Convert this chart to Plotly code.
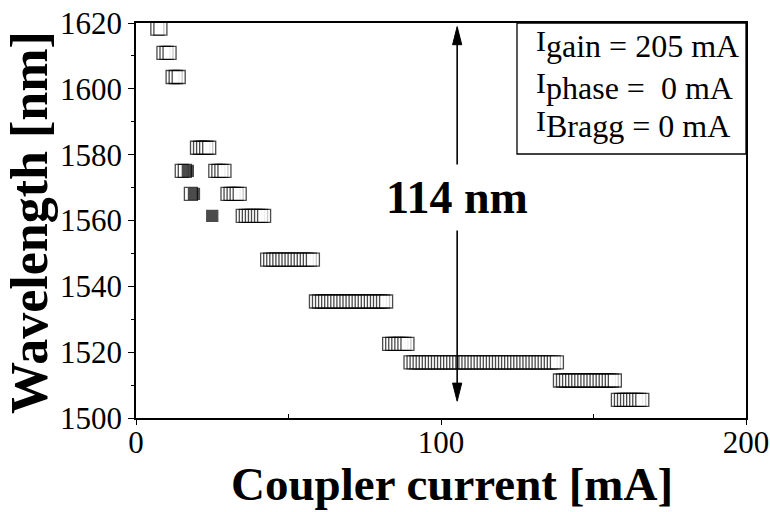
import plotly.graph_objects as go

# ---------------- data ----------------
coupler_current = [
    7, 8, 9, 10, 11, 12, 13, 14, 15, 16, 17, 18, 19, 20, 21, 22, 23, 24, 25, 26,
    27, 28, 29, 30, 31, 32, 33, 34, 35, 36, 37, 38, 39, 40, 41, 42, 43, 44, 45, 46,
    47, 48, 49, 50, 51, 52, 53, 54, 55, 56, 57, 58, 59, 60, 61, 62, 63, 64, 65, 66,
    67, 68, 69, 70, 71, 72, 73, 74, 75, 76, 77, 78, 79, 80, 81, 82, 83, 84, 85, 86,
    87, 88, 89, 90, 91, 92, 93, 94, 95, 96, 97, 98, 99, 100, 101, 102, 103, 104, 105, 106,
    107, 108, 109, 110, 111, 112, 113, 114, 115, 116, 117, 118, 119, 120, 121, 122, 123, 124, 125, 126,
    127, 128, 129, 130, 131, 132, 133, 134, 135, 136, 137, 138, 139, 140, 141, 142, 143, 144, 145, 146,
    147, 148, 149, 150, 151, 152, 153, 154, 155, 156, 157, 158, 159, 160, 161, 162, 163, 164, 165, 166,
]

wavelength = [
    1618.3, 1618.3, 1610.9, 1610.9, 1610.9, 1603.6, 1603.6, 1603.6, 1575.1, 1575.1,
    1575.1, 1568.1, 1568.1, 1582.1, 1582.1, 1582.1, 1582.1, 1582.1, 1561.4, 1575.1,
    1575.1, 1575.1, 1575.1, 1568.1, 1568.1, 1568.1, 1568.1, 1568.1, 1561.4, 1561.4,
    1561.4, 1561.4, 1561.4, 1561.4, 1561.4, 1561.4, 1548.1, 1548.1, 1548.1, 1548.1,
    1548.1, 1548.1, 1548.1, 1548.1, 1548.1, 1548.1, 1548.1, 1548.1, 1548.1, 1548.1,
    1548.1, 1548.1, 1535.4, 1535.4, 1535.4, 1535.4, 1535.4, 1535.4, 1535.4, 1535.4,
    1535.4, 1535.4, 1535.4, 1535.4, 1535.4, 1535.4, 1535.4, 1535.4, 1535.4, 1535.4,
    1535.4, 1535.4, 1535.4, 1535.4, 1535.4, 1535.4, 1522.5, 1522.5, 1522.5, 1522.5,
    1522.5, 1522.5, 1522.5, 1516.9, 1516.9, 1516.9, 1516.9, 1516.9, 1516.9, 1516.9,
    1516.9, 1516.9, 1516.9, 1516.9, 1516.9, 1516.9, 1516.9, 1516.9, 1516.9, 1516.9,
    1516.9, 1516.9, 1516.9, 1516.9, 1516.9, 1516.9, 1516.9, 1516.9, 1516.9, 1516.9,
    1516.9, 1516.9, 1516.9, 1516.9, 1516.9, 1516.9, 1516.9, 1516.9, 1516.9, 1516.9,
    1516.9, 1516.9, 1516.9, 1516.9, 1516.9, 1516.9, 1516.9, 1516.9, 1516.9, 1516.9,
    1516.9, 1516.9, 1511.4, 1511.4, 1511.4, 1511.4, 1511.4, 1511.4, 1511.4, 1511.4,
    1511.4, 1511.4, 1511.4, 1511.4, 1511.4, 1511.4, 1511.4, 1511.4, 1511.4, 1511.4,
    1511.4, 1505.5, 1505.5, 1505.5, 1505.5, 1505.5, 1505.5, 1505.5, 1505.5, 1505.5,
]

# 'f' = filled marker point, 'o' = open marker point
point_kind = [
    'o', 'o', 'o', 'o', 'o', 'o', 'o', 'o', 'o', 'o',
    'f', 'o', 'f', 'o', 'o', 'o', 'o', 'o', 'f', 'o',
] + ['o'] * 140

x_ticks = [0, 100, 200]
y_ticks = [1500, 1520, 1540, 1560, 1580, 1600, 1620]

# tuning range annotation (data units)
span_x = 105.3
span_top = 1618.9
span_bottom = 1505.1
span_label = "114 nm"
conditions = [("gain", "205 mA"), ("phase", " 0 mA"), ("Bragg", "0 mA")]

# ---------------- styles ----------------
FONT = "Liberation Serif"
fill_for = {'o': 'white', 'f': 'black'}
size_for = {'o': 13, 'f': 11}

fig = go.Figure()
fig.add_trace(go.Scatter(
    x=coupler_current, y=wavelength, mode="markers",
    marker=dict(symbol="square",
                size=[size_for[k] for k in point_kind],
                color=[fill_for[k] for k in point_kind],
                line=dict(color="black", width=1.3)),
    showlegend=False, hoverinfo="skip", cliponaxis=False,
))

L, R, T, B = 136, 24, 23, 94
W, H = 770, 512
pw, ph = W - L - R, H - T - B


def px(xp):
    return (xp - L) / pw


def py(yp):
    return (H - B - yp) / ph


# arrow line and heads
head_len = 5.5   # nm
head_half = 1.5  # mA
shapes = [
    dict(type="line", xref="x", yref="y", x0=span_x, x1=span_x,
         y0=span_bottom + head_len * 0.5, y1=span_top - head_len * 0.5,
         line=dict(color="black", width=1.6)),
    dict(type="path", xref="x", yref="y",
         path=f"M{span_x},{span_top} L{span_x - head_half},{span_top - head_len} "
              f"L{span_x + head_half},{span_top - head_len} Z",
         fillcolor="black", line=dict(color="black", width=1)),
    dict(type="path", xref="x", yref="y",
         path=f"M{span_x},{span_bottom} L{span_x - head_half},{span_bottom + head_len} "
              f"L{span_x + head_half},{span_bottom + head_len} Z",
         fillcolor="black", line=dict(color="black", width=1)),
    # condition box
    dict(type="rect", xref="paper", yref="paper",
         x0=px(517), x1=1.0, y0=py(154), y1=1.0,
         line=dict(color="black", width=1.3), fillcolor="rgba(0,0,0,0)"),
]

annotations = [
    dict(x=span_x, y=1567.1, xref="x", yref="y", text=f"<b>{span_label}</b>",
         showarrow=False, font=dict(family=FONT, size=46, color="black"),
         bgcolor="white", borderpad=7, xanchor="center", yanchor="middle"),
    dict(x=px(452), y=py(484), xref="paper", yref="paper",
         text="<b>Coupler current [mA]</b>", showarrow=False,
         font=dict(family=FONT, size=47, color="black"),
         xanchor="center", yanchor="middle"),
    dict(x=px(29), y=py(223), xref="paper", yref="paper",
         text="<b>Wavelength [nm]</b>", showarrow=False, textangle=-90,
         font=dict(family=FONT, size=52, color="black"),
         xanchor="center", yanchor="middle"),
]

line_centers = [44, 86, 124]
for (sub, val), yc in zip(conditions, line_centers):
    annotations.append(dict(
        x=px(534), y=py(yc), xref="paper", yref="paper",
        text=f"I<sub><span style='font-size:32px'>{sub} = {val}</span></sub>",
        showarrow=False, font=dict(family=FONT, size=30, color="black"),
        xanchor="left", yanchor="middle"))

tick_font = dict(family=FONT, size=31, color="black")

fig.update_layout(
    width=W, height=H,
    margin=dict(l=L, r=R, t=T, b=B, pad=0, autoexpand=False),
    paper_bgcolor="white", plot_bgcolor="white",
    font=dict(family=FONT, size=31, color="black"),
    shapes=shapes, annotations=annotations,
    xaxis=dict(range=[0, 200], tickvals=x_ticks, ticktext=[str(v) for v in x_ticks],
               ticks="outside", ticklen=5, tickwidth=1.3, tickcolor="black",
               ticklabelstandoff=-9,
               minor=dict(tickvals=[50, 150], ticks="inside", ticklen=4, tickcolor="black"),
               showline=True, linecolor="black", linewidth=1.5, mirror=True,
               showgrid=False, zeroline=False, automargin=False,
               tickfont=tick_font),
    yaxis=dict(range=[1500, 1620], tickvals=y_ticks, ticktext=[str(v) for v in y_ticks],
               ticks="outside", ticklen=6, tickwidth=1.3, tickcolor="black",
               minor=dict(dtick=10, ticks="outside", ticklen=3, tickcolor="black"),
               showline=True, linecolor="black", linewidth=1.5, mirror=True,
               showgrid=False, zeroline=False, automargin=False,
               tickfont=tick_font),
)

fig.write_html("out.html")
